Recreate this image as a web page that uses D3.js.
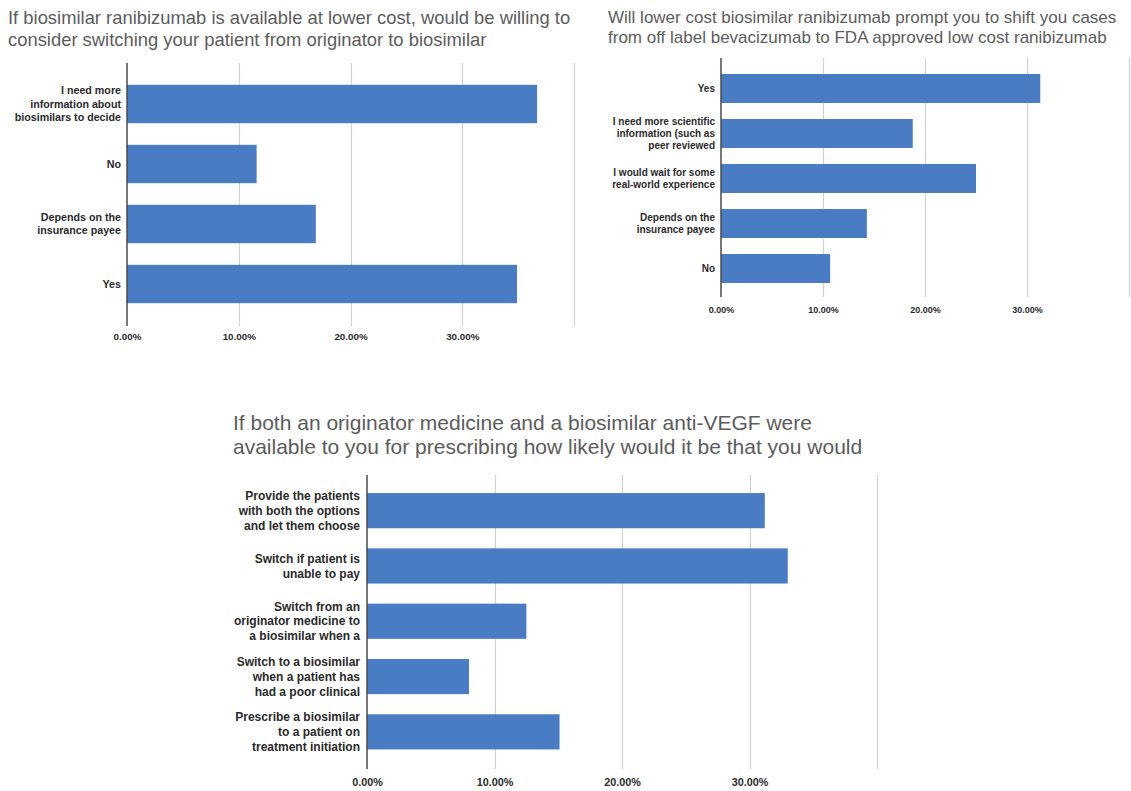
<!DOCTYPE html>
<html>
<head>
<meta charset="utf-8">
<script src="https://cdn.jsdelivr.net/npm/d3@7"></script>
<style>
  html, body { margin: 0; padding: 0; background: #fff; }
  svg { display: block; }
  text { font-family: "Liberation Sans", Arial, sans-serif; }
</style>
</head>
<body>
<svg id="chart" width="1131" height="791"></svg>
<script>
// ---- Survey data (share of respondents, %) ----

// Panel 1: switching from originator to biosimilar ranibizumab
const switchTitle = [
  "If biosimilar ranibizumab is available at lower cost, would be willing to",
  "consider switching your patient from originator to biosimilar"
];
const switchCategories = [
  ["I need more", "information about", "biosimilars to decide"],
  ["No"],
  ["Depends on the", "insurance payee"],
  ["Yes"]
];
const switchValues = [36.7, 11.6, 16.9, 34.9];

// Panel 2: shifting cases from bevacizumab to low cost ranibizumab
const shiftTitle = [
  "Will lower cost biosimilar ranibizumab prompt you to shift you cases",
  "from off label bevacizumab to FDA approved low cost ranibizumab"
];
const shiftCategories = [
  ["Yes"],
  ["I need more scientific", "information (such as", "peer reviewed"],
  ["I would wait for some", "real-world experience"],
  ["Depends on the", "insurance payee"],
  ["No"]
];
const shiftValues = [31.3, 18.8, 25.0, 14.3, 10.7];

// Panel 3: prescribing when both originator and biosimilar anti-VEGF exist
const prescribeTitle = [
  "If both an originator medicine and a biosimilar anti-VEGF were",
  "available to you for prescribing how likely would it be that you would"
];
const prescribeCategories = [
  ["Provide the patients", "with both the options", "and let them choose"],
  ["Switch if patient is", "unable to pay"],
  ["Switch from an", "originator medicine to", "a biosimilar when a"],
  ["Switch to a biosimilar", "when a patient has", "had a poor clinical"],
  ["Prescribe a biosimilar", "to a patient on", "treatment initiation"]
];
const prescribeValues = [31.2, 33.0, 12.5, 8.0, 15.1];

// Shared horizontal axis
const tickValues = [0, 10, 20, 30];
const tickLabels = ["0.00%", "10.00%", "20.00%", "30.00%"];
const gridValues = [10, 20, 30, 40];
const axisMax = 40;

const BAR = "#4a7cc3";
const svg = d3.select("#chart");

function drawPanel(o) {
  const g = svg.append("g");

  // title
  g.append("g").selectAll("text").data(o.title).join("text")
    .attr("x", o.titleX)
    .attr("y", (d, i) => o.titleY + i * o.titleLine)
    .attr("dy", "0.35em")
    .attr("font-size", o.titleSize)
    .attr("fill", "#5c5c5c")
    .text(d => d);

  const x = d3.scaleLinear().domain([0, axisMax]).range([o.x0, o.x1]);
  const y = d3.scaleBand()
    .domain(d3.range(o.values.length))
    .range(o.band)
    .paddingInner(o.pad)
    .paddingOuter(o.pad / 2);

  // vertical gridlines
  g.append("g").selectAll("line").data(gridValues).join("line")
    .attr("x1", d => Math.round(x(d)) + 0.5)
    .attr("x2", d => Math.round(x(d)) + 0.5)
    .attr("y1", o.axisTop)
    .attr("y2", o.axisBottom)
    .attr("stroke", "#d0d0d0")
    .attr("stroke-width", 1.2);

  // bars
  g.append("g").selectAll("rect").data(o.values).join("rect")
    .attr("x", x(0))
    .attr("y", (d, i) => y(i))
    .attr("width", d => x(d) - x(0))
    .attr("height", y.bandwidth())
    .attr("fill", BAR);

  // baseline axis
  g.append("line")
    .attr("x1", x(0)).attr("x2", x(0))
    .attr("y1", o.axisTop).attr("y2", o.axisBottom)
    .attr("stroke", "#4a4a4a")
    .attr("stroke-width", 1.5);

  // category labels (multi-line, right aligned)
  const lab = g.append("g").selectAll("text").data(o.categories).join("text")
    .attr("text-anchor", "end")
    .attr("font-size", o.labelSize)
    .attr("font-weight", "bold")
    .attr("fill", "#2a2a2a")
    .attr("transform", (d, i) => {
      const cy = y(i) + y.bandwidth() / 2 - (d.length - 1) * o.labelLine / 2;
      return `translate(${x(0) - o.labelGap},${cy})`;
    });
  lab.selectAll("tspan").data(d => d).join("tspan")
    .attr("x", 0)
    .attr("y", (d, i) => i * o.labelLine)
    .attr("dy", "0.35em")
    .text(d => d);

  // percentage ticks
  const axis = d3.axisBottom(x)
    .tickValues(tickValues)
    .tickSize(0)
    .tickPadding(0)
    .tickFormat((d, i) => tickLabels[i]);
  const ax = g.append("g")
    .attr("transform", `translate(0,${o.tickY})`)
    .call(axis);
  ax.select(".domain").remove();
  ax.selectAll("text")
    .attr("y", 0)
    .attr("dy", "0.35em")
    .attr("font-size", o.tickSize)
    .attr("font-weight", "bold")
    .attr("font-family", "Liberation Sans, Arial, sans-serif")
    .attr("fill", "#2a2a2a");
}

drawPanel({
  title: switchTitle, titleX: 8, titleY: 18, titleLine: 22, titleSize: 18.4,
  categories: switchCategories, values: switchValues,
  x0: 127, x1: 574, band: [74, 314], pad: 0.36,
  axisTop: 63, axisBottom: 326, tickY: 337,
  labelSize: 10.7, labelLine: 13.3, labelGap: 6, tickSize: 9.8
});

drawPanel({
  title: shiftTitle, titleX: 608, titleY: 17, titleLine: 20, titleSize: 17,
  categories: shiftCategories, values: shiftValues,
  x0: 721, x1: 1129, band: [66, 291], pad: 0.356,
  axisTop: 58, axisBottom: 297, tickY: 310,
  labelSize: 10, labelLine: 12, labelGap: 6, tickSize: 9
});

drawPanel({
  title: prescribeTitle, titleX: 233, titleY: 423, titleLine: 24, titleSize: 21,
  categories: prescribeCategories, values: prescribeValues,
  x0: 367, x1: 877, band: [483, 759.5], pad: 0.364,
  axisTop: 475, axisBottom: 769, tickY: 782,
  labelSize: 12, labelLine: 14.8, labelGap: 7, tickSize: 10.8
});
</script>
</body>
</html>
